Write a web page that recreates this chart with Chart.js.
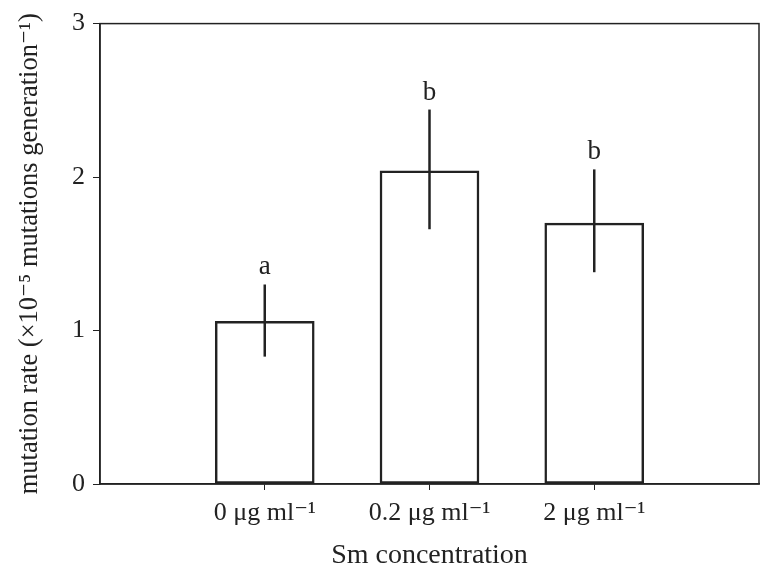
<!DOCTYPE html>
<html>
<head>
<meta charset="utf-8">
<script src="https://cdn.jsdelivr.net/npm/chart.js@4"></script>
<style>
  html, body { margin: 0; padding: 0; background: #fff; }
  #wrap { position: relative; width: 760px; height: 572px; }
</style>
</head>
<body>
<div id="wrap"><canvas id="chart"></canvas></div>
<script>
const categories = ['0 μg ml⁻¹', '0.2 μg ml⁻¹', '2 μg ml⁻¹'];
const rates = [1.06, 2.04, 1.70];
const errLow = [0.83, 1.66, 1.38];
const errHigh = [1.30, 2.44, 2.05];
const letters = ['a', 'b', 'b'];
const yTicks = [0, 1, 2, 3];

const ink = '#222';
const serif = '"Liberation Serif", "DejaVu Serif", serif';

// one empty slot at each end, as in the original layout
const labels = ['', ...categories, ''];

// error bars, significance letters and the frame round the plot
const extras = {
  id: 'extras',
  afterDatasetsDraw(chart) {
    const { ctx, chartArea: a, scales: { x, y } } = chart;
    ctx.save();
    ctx.strokeStyle = ink;
    ctx.lineWidth = 1.5;
    ctx.strokeRect(a.left, a.top, a.right - a.left, a.bottom - a.top);

    ctx.lineWidth = 2.5;
    ctx.fillStyle = ink;
    ctx.font = '27px ' + serif;
    ctx.textAlign = 'center';
    ctx.textBaseline = 'alphabetic';
    categories.forEach((c, i) => {
      const px = x.getPixelForValue(i + 1);
      ctx.beginPath();
      ctx.moveTo(px, y.getPixelForValue(errLow[i]));
      ctx.lineTo(px, y.getPixelForValue(errHigh[i]));
      ctx.stroke();
      ctx.fillText(letters[i], px, y.getPixelForValue(errHigh[i]) - 10);
    });
    ctx.restore();
  }
};

new Chart(document.getElementById('chart'), {
  type: 'bar',
  data: {
    labels: labels,
    datasets: [{
      data: [null, ...rates, null],
      backgroundColor: '#fff',
      borderColor: ink,
      borderWidth: 2.5,
      borderSkipped: false,
      barThickness: 99
    }]
  },
  options: {
    responsive: true,
    maintainAspectRatio: false,
    animation: false,
    layout: { padding: { left: 0, right: 1, top: 23, bottom: 0 } },
    plugins: { legend: { display: false }, tooltip: { enabled: false } },
    scales: {
      x: {
        offset: false,
        afterBuildTicks: s => { s.ticks = s.ticks.filter(t => labels[t.value] !== ''); },
        afterFit: s => { s.height = 88; },
        grid: { drawOnChartArea: false, drawTicks: true, tickLength: 6, color: ink, lineWidth: 1, offset: false },
        border: { display: true, color: ink, width: 1.5 },
        ticks: {
          color: ink,
          padding: 8,
          maxRotation: 0,
          autoSkip: false,
          font: { family: serif, size: 26 },
          callback: v => labels[v]
        },
        title: {
          display: true,
          text: 'Sm concentration',
          color: ink,
          font: { family: serif, size: 28 },
          padding: { top: 0, bottom: 0 }
        }
      },
      y: {
        min: 0,
        max: 3,
        afterBuildTicks: s => { s.ticks = yTicks.map(v => ({ value: v })); },
        afterFit: s => { s.width = 100; },
        grid: { drawOnChartArea: false, drawTicks: true, tickLength: 7, color: ink, lineWidth: 1 },
        border: { display: true, color: ink, width: 1.5 },
        ticks: {
          color: ink,
          padding: 8,
          font: { family: serif, size: 26 }
        },
        title: {
          display: true,
          text: 'mutation rate (×10⁻⁵ mutations generation⁻¹)',
          color: ink,
          font: { family: serif, size: 26.5 },
          padding: { top: 14, bottom: 0 }
        }
      }
    }
  },
  plugins: [extras]
});
</script>
</body>
</html>
